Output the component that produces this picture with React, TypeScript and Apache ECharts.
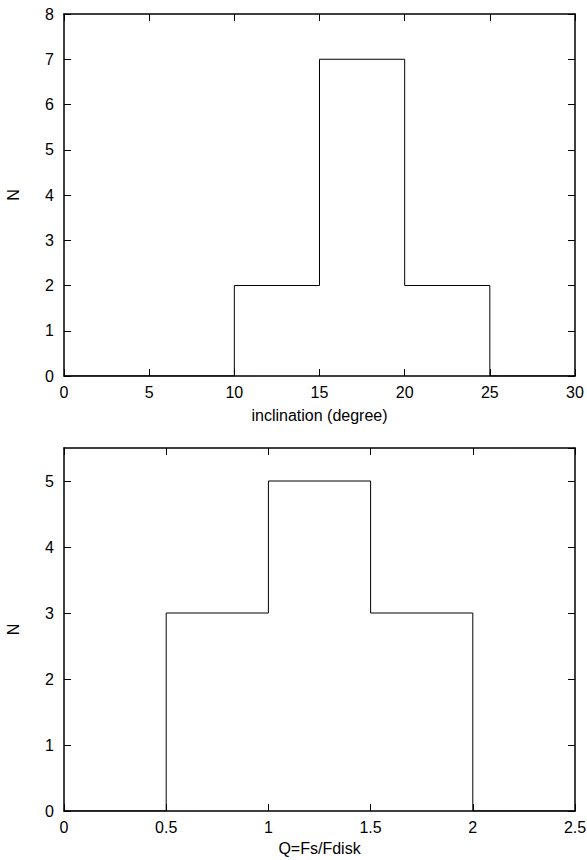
import React, { useEffect, useRef } from "react";
import * as echarts from "echarts";

// Top histogram: inclination (degree)
const incEdges = [0, 5, 10, 15, 20, 25, 30];
const incCounts = [0, 0, 2, 7, 2, 0];
// Bottom histogram: Q = Fs/Fdisk
const qEdges = [0, 0.5, 1, 1.5, 2, 2.5];
const qCounts = [0, 3, 5, 3, 0];

function stepPoints(edges: number[], counts: number[]) {
  const pts: number[][] = [[edges[0], 0]];
  for (let i = 0; i < counts.length; i++) {
    pts.push([edges[i], counts[i]]);
    pts.push([edges[i + 1], counts[i]]);
  }
  pts.push([edges[edges.length - 1], 0]);
  return pts;
}

const FONT = "Liberation Sans";

export default function App() {
  const ref = useRef<HTMLDivElement>(null);
  useEffect(() => {
    document.body.style.margin = "0";
    const chart = echarts.init(ref.current!, null, { renderer: "svg" });
    const axisLine = { show: true, onZero: false, lineStyle: { color: "#000", width: 1.5 } };
    const tick = { show: true, inside: true, length: 7, lineStyle: { color: "#000", width: 1 } };
    const xLabel = { color: "#000", fontFamily: FONT, fontSize: 16, margin: 8 };
    const yLabel = { color: "#000", fontFamily: FONT, fontSize: 16, margin: 10 };
    const nameStyle = { color: "#000", fontFamily: FONT, fontSize: 16 };
    const mirrorX = (grid: number, min: number, max: number, interval: number) => ({
      type: "value", gridIndex: grid, position: "top", min, max, interval,
      axisLine, axisTick: tick, axisLabel: { show: false }, splitLine: { show: false },
    });
    const mirrorY = (grid: number, min: number, max: number, interval: number) => ({
      type: "value", gridIndex: grid, position: "right", min, max, interval,
      axisLine, axisTick: tick, axisLabel: { show: false }, splitLine: { show: false },
    });
    chart.setOption({
      animation: false,
      backgroundColor: "#fff",
      grid: [
        { left: 64, top: 14, width: 511, height: 362, containLabel: false, outerBoundsMode: "none" },
        { left: 64, top: 448, width: 511, height: 363, containLabel: false, outerBoundsMode: "none" },
      ],
      xAxis: [
        {
          type: "value", gridIndex: 0, min: 0, max: 30, interval: 5,
          name: "inclination (degree)", nameLocation: "middle", nameGap: 31, nameTextStyle: nameStyle,
          axisLine, axisTick: tick, axisLabel: xLabel, splitLine: { show: false },
        },
        mirrorX(0, 0, 30, 5),
        {
          type: "value", gridIndex: 1, min: 0, max: 2.5, interval: 0.5,
          name: "Q=Fs/Fdisk", nameLocation: "middle", nameGap: 29, nameTextStyle: nameStyle,
          axisLine, axisTick: tick, axisLabel: xLabel, splitLine: { show: false },
        },
        mirrorX(1, 0, 2.5, 0.5),
      ],
      yAxis: [
        {
          type: "value", gridIndex: 0, min: 0, max: 8, interval: 1,
          name: "N", nameLocation: "middle", nameGap: 43, nameTextStyle: nameStyle,
          axisLine, axisTick: tick, axisLabel: yLabel, splitLine: { show: false },
        },
        mirrorY(0, 0, 8, 1),
        {
          type: "value", gridIndex: 1, min: 0, max: 5.5, interval: 1,
          name: "N", nameLocation: "middle", nameGap: 43, nameTextStyle: nameStyle,
          axisLine, axisTick: tick, axisLabel: { ...yLabel, showMaxLabel: false }, splitLine: { show: false },
        },
        mirrorY(1, 0, 5.5, 1),
      ],
      series: [
        {
          type: "line", xAxisIndex: 0, yAxisIndex: 0, data: stepPoints(incEdges, incCounts),
          symbol: "none", lineStyle: { color: "#000", width: 1 },
        },
        {
          type: "line", xAxisIndex: 2, yAxisIndex: 2, data: stepPoints(qEdges, qCounts),
          symbol: "none", lineStyle: { color: "#000", width: 1 },
        },
      ],
    });
    return () => chart.dispose();
  }, []);
  return <div ref={ref} style={{ width: 587, height: 860 }} />;
}
